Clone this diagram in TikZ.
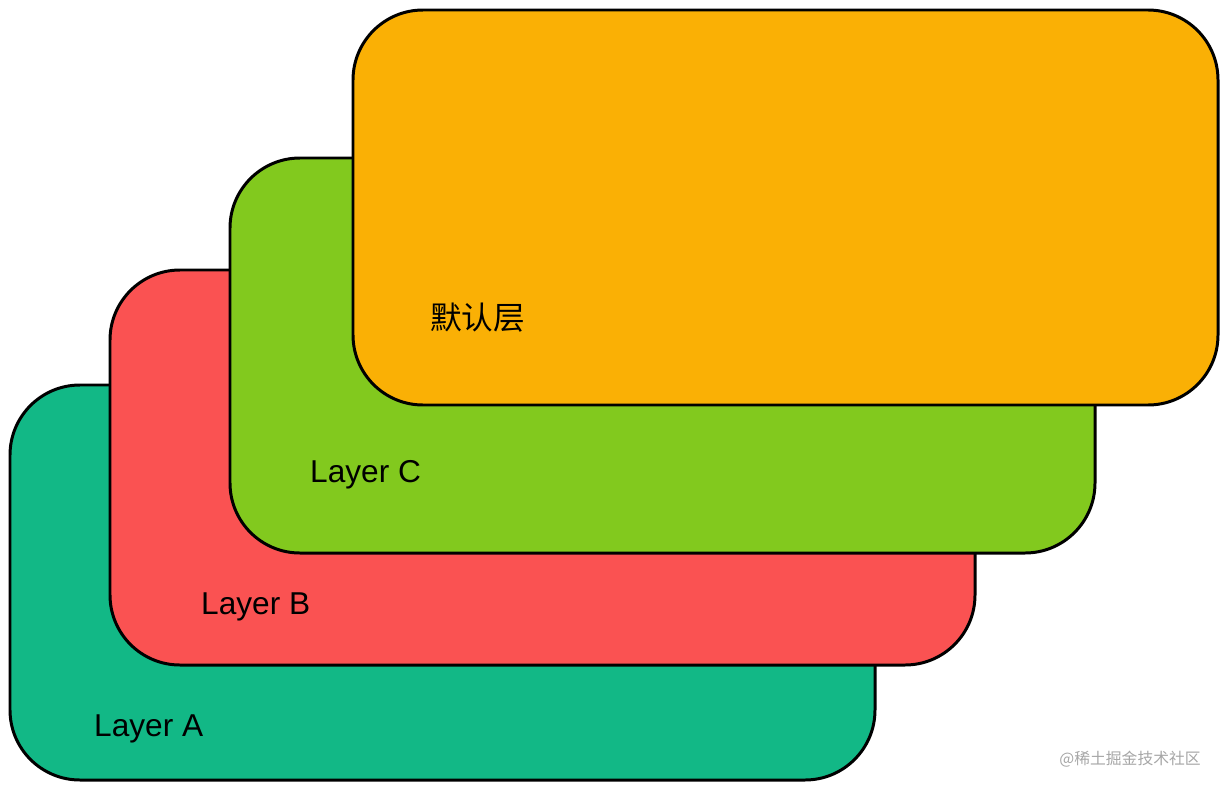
\documentclass[tikz,border=0pt]{standalone}
\usepackage{fontspec}
\setmainfont{Liberation Sans}
\newfontfamily\cjk{Noto Sans CJK SC}
\begin{document}
\begin{tikzpicture}[x=0.02cm,y=-0.02cm,
 layer/.style={draw=black,line width=1.7pt,rounded corners=1.4cm},
 lbl/.style={anchor=west,font=\fontsize{18}{20}\selectfont}]
\useasboundingbox (0,0) rectangle (1227,791);
\definecolor{cA}{HTML}{12B886}\definecolor{cB}{HTML}{FA5252}
\definecolor{cC}{HTML}{82C91E}\definecolor{cD}{HTML}{FAB005}
\draw[layer,fill=cA] (10,385) rectangle (875,780);
\draw[layer,fill=cB] (110,270) rectangle (975,665);
\draw[layer,fill=cC] (230,158) rectangle (1095,553);
\draw[layer,fill=cD] (353,10) rectangle (1218,405);
\node[lbl] (la) at (88,729) {Layer A};
\node[lbl] (lb) at (195,607) {Layer B};
\node[lbl] (lc) at (304,475) {Layer C};
\node[lbl] (ld) at (424,318) {\cjk 默认层};
\node[anchor=east,text=gray!70,font=\cjk\fontsize{9}{10}\selectfont] (wm) at (1207,759) {@稀土掘金技术社区};
\end{tikzpicture}
\end{document}
